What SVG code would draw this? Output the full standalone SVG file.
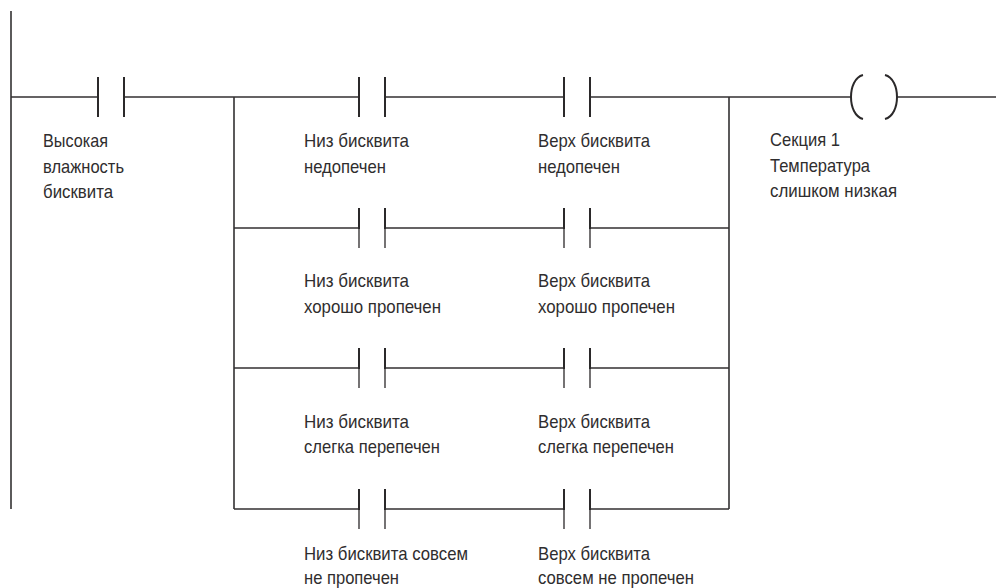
<svg xmlns="http://www.w3.org/2000/svg" width="996" height="588" viewBox="0 0 996 588">
<style>
.w{fill:none;stroke:#333132;stroke-width:1.6}
.c{fill:none;stroke:#2b292a;stroke-width:2}
.t{fill:none;stroke:#2b292a;stroke-width:1.3}
text{font-family:"Liberation Sans",Arial,sans-serif;font-size:19px;fill:#2f2d2e}
</style>
<defs>
<g id="contact"><path class="c" d="M0-20V20M26-20V20"/></g>
<g id="contact2"><path class="c" d="M0-20V1M26-20V1"/><path class="t" d="M0 0V20M26 0V20"/></g>
</defs>
<rect width="996" height="588" fill="#fff"/>
<g id="connectors">
<path class="w" d="M11 11V509"/>
<path class="w" d="M11 97H98M124 97H359M385 97H564M590 97H729"/>
<path class="w" d="M234 97V509M729 97V509"/>
<path class="w" d="M234 228H359M385 228H564M590 228H729"/>
<path class="w" d="M234 368H359M385 368H564M590 368H729"/>
<path class="w" d="M234 509H359M385 509H564M590 509H729"/>
<path class="w" d="M729 97H851M897 97H996"/>
</g>
<g id="c0"><use href="#contact" x="98" y="97"/><text x="43" y="147" textLength="65" lengthAdjust="spacingAndGlyphs">Высокая</text><text x="43" y="173" textLength="81" lengthAdjust="spacingAndGlyphs">влажность</text><text x="43" y="198" textLength="70" lengthAdjust="spacingAndGlyphs">бисквита</text></g>
<g id="c1"><use href="#contact" x="359" y="97"/><text x="304" y="147" textLength="105" lengthAdjust="spacingAndGlyphs">Низ бисквита</text><text x="304" y="173" textLength="82" lengthAdjust="spacingAndGlyphs">недопечен</text></g>
<g id="c2"><use href="#contact" x="564" y="97"/><text x="538" y="147" textLength="112" lengthAdjust="spacingAndGlyphs">Верх бисквита</text><text x="538" y="173" textLength="82" lengthAdjust="spacingAndGlyphs">недопечен</text></g>
<g id="c3"><use href="#contact2" x="359" y="228"/><text x="304" y="287" textLength="105" lengthAdjust="spacingAndGlyphs">Низ бисквита</text><text x="304" y="313" textLength="137" lengthAdjust="spacingAndGlyphs">хорошо пропечен</text></g>
<g id="c4"><use href="#contact2" x="564" y="228"/><text x="538" y="287" textLength="112" lengthAdjust="spacingAndGlyphs">Верх бисквита</text><text x="538" y="313" textLength="137" lengthAdjust="spacingAndGlyphs">хорошо пропечен</text></g>
<g id="c5"><use href="#contact2" x="359" y="368"/><text x="304" y="428" textLength="105" lengthAdjust="spacingAndGlyphs">Низ бисквита</text><text x="304" y="453" textLength="136" lengthAdjust="spacingAndGlyphs">слегка перепечен</text></g>
<g id="c6"><use href="#contact2" x="564" y="368"/><text x="538" y="428" textLength="112" lengthAdjust="spacingAndGlyphs">Верх бисквита</text><text x="538" y="453" textLength="136" lengthAdjust="spacingAndGlyphs">слегка перепечен</text></g>
<g id="c7"><use href="#contact2" x="359" y="509"/><text x="304" y="560" textLength="164" lengthAdjust="spacingAndGlyphs">Низ бисквита совсем</text><text x="304" y="584" textLength="95" lengthAdjust="spacingAndGlyphs">не пропечен</text></g>
<g id="c8"><use href="#contact2" x="564" y="509"/><text x="538" y="560" textLength="112" lengthAdjust="spacingAndGlyphs">Верх бисквита</text><text x="538" y="584" textLength="156" lengthAdjust="spacingAndGlyphs">совсем не пропечен</text></g>
<g id="coil"><path class="c" d="M863 75C855 77 851 87 851 97S855 117 863 119M885 75C893 77 897 87 897 97S893 117 885 119"/><text x="770" y="146" textLength="70" lengthAdjust="spacingAndGlyphs">Секция 1</text><text x="770" y="172" textLength="100" lengthAdjust="spacingAndGlyphs">Температура</text><text x="770" y="197" textLength="127" lengthAdjust="spacingAndGlyphs">слишком низкая</text></g>
</svg>
